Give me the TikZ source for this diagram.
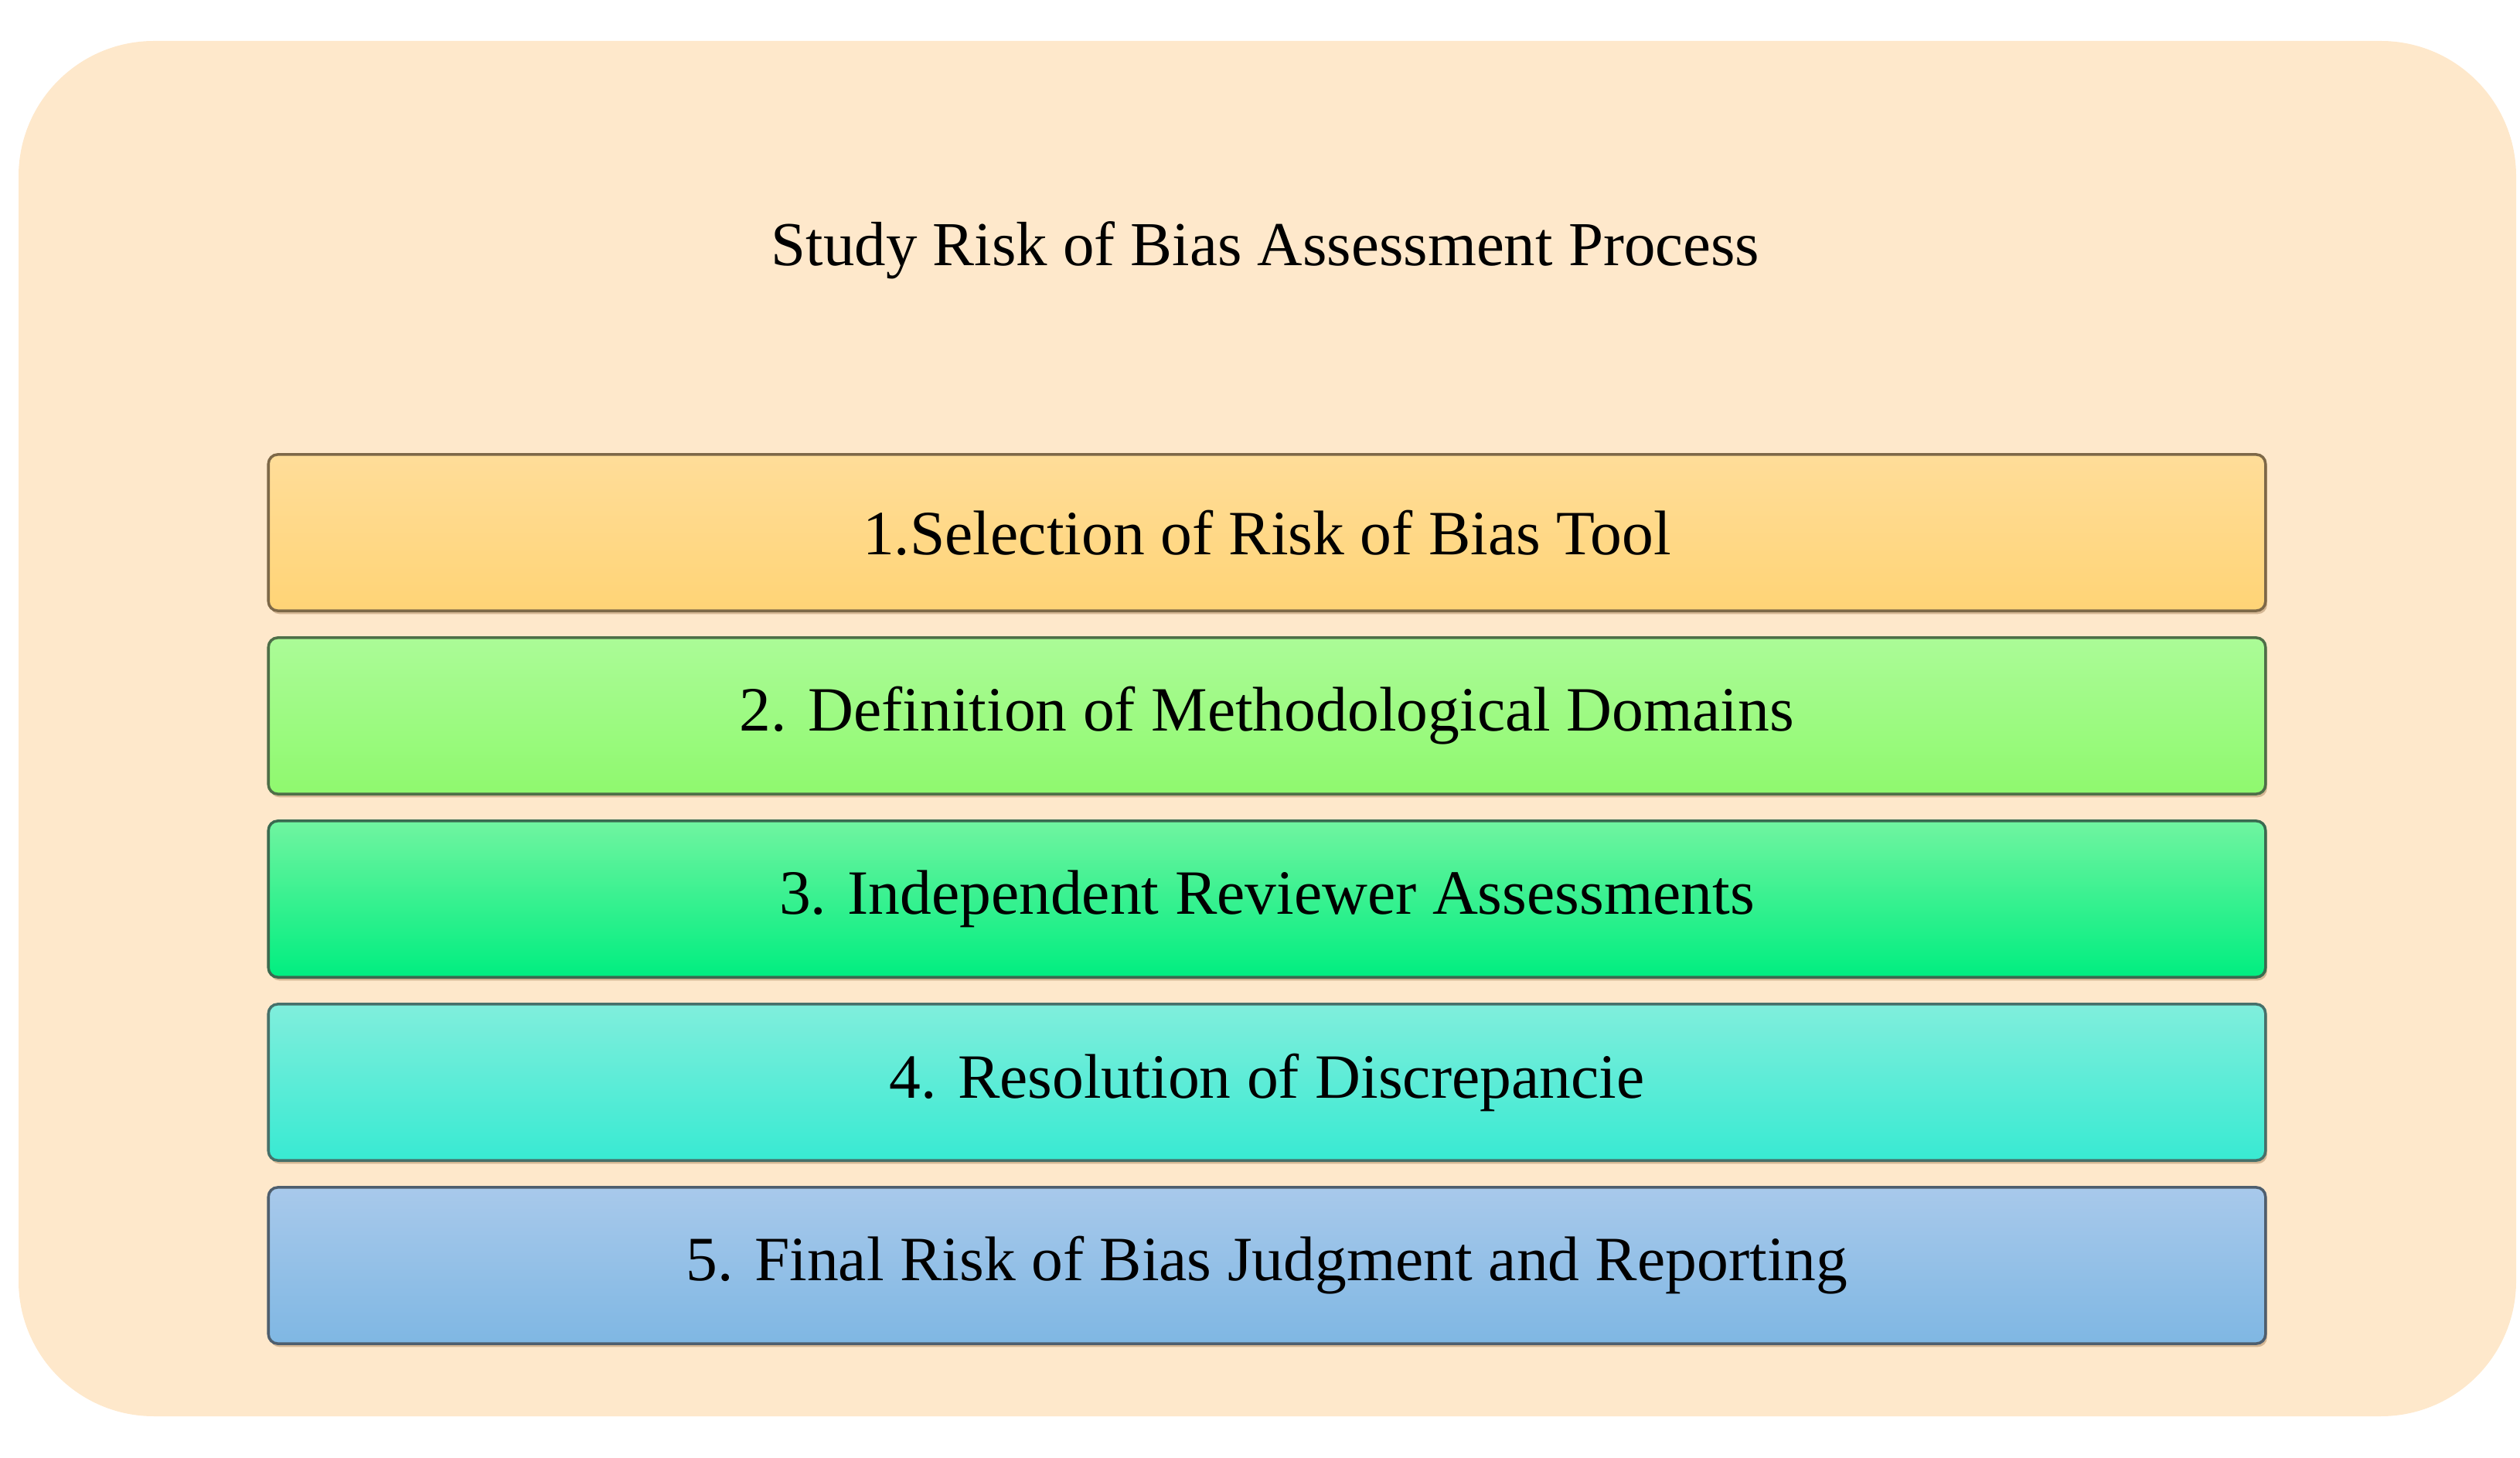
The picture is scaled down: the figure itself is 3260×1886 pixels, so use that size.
\documentclass[tikz,border=0pt]{standalone}
\usepackage{fontspec}
\setmainfont{Liberation Serif}
\usetikzlibrary{shadows}
\definecolor{bgcol}{HTML}{FEE8CB}
\definecolor{aTop}{HTML}{FFDD99}\definecolor{aBot}{HTML}{FFD476}\definecolor{aLine}{HTML}{7D6848}
\definecolor{bTop}{HTML}{ABFB97}\definecolor{bBot}{HTML}{8FF96E}\definecolor{bLine}{HTML}{4E6E48}
\definecolor{cTop}{HTML}{70F4A0}\definecolor{cBot}{HTML}{00EE80}\definecolor{cLine}{HTML}{3A6A50}
\definecolor{dTop}{HTML}{80EEDC}\definecolor{dBot}{HTML}{38EAD2}\definecolor{dLine}{HTML}{46706A}
\definecolor{eTop}{HTML}{A8C9EB}\definecolor{eBot}{HTML}{7FB7E3}\definecolor{eLine}{HTML}{4E5E6E}
\tikzset{
  stepbox/.style={rectangle, rounded corners=0.12cm, line width=1pt,
    minimum width=25.82cm, minimum height=2.02cm, inner sep=0pt,
    font=\fontsize{23.2}{28}\selectfont,
    drop shadow={shadow xshift=0.6pt, shadow yshift=-1.2pt, opacity=0.35, fill=brown!70!black}},
  titlestyle/.style={font=\fontsize{23}{27}\selectfont, inner sep=0pt}
}
\begin{document}
\begin{tikzpicture}[x=0.01cm, y=-0.01cm]
\useasboundingbox (0,0) rectangle (3260,1886);
\fill[bgcol, rounded corners=1.75cm] (24,53) rectangle (3255,1832);
\node[titlestyle] (title) at (1637,324) {Study Risk of Bias Assessment Process};
\node[stepbox, draw=aLine, top color=aTop, bottom color=aBot] (s1) at (1639,689) {1.Selection of Risk of Bias Tool};
\node[stepbox, draw=bLine, top color=bTop, bottom color=bBot] (s2) at (1639,926) {2. Definition of Methodological Domains};
\node[stepbox, draw=cLine, top color=cTop, bottom color=cBot] (s3) at (1639,1163) {3. Independent Reviewer Assessments};
\node[stepbox, draw=dLine, top color=dTop, bottom color=dBot] (s4) at (1639,1400) {4. Resolution of Discrepancie};
\node[stepbox, draw=eLine, top color=eTop, bottom color=eBot] (s5) at (1639,1637) {5. Final Risk of Bias Judgment and Reporting};
\end{tikzpicture}
\end{document}
